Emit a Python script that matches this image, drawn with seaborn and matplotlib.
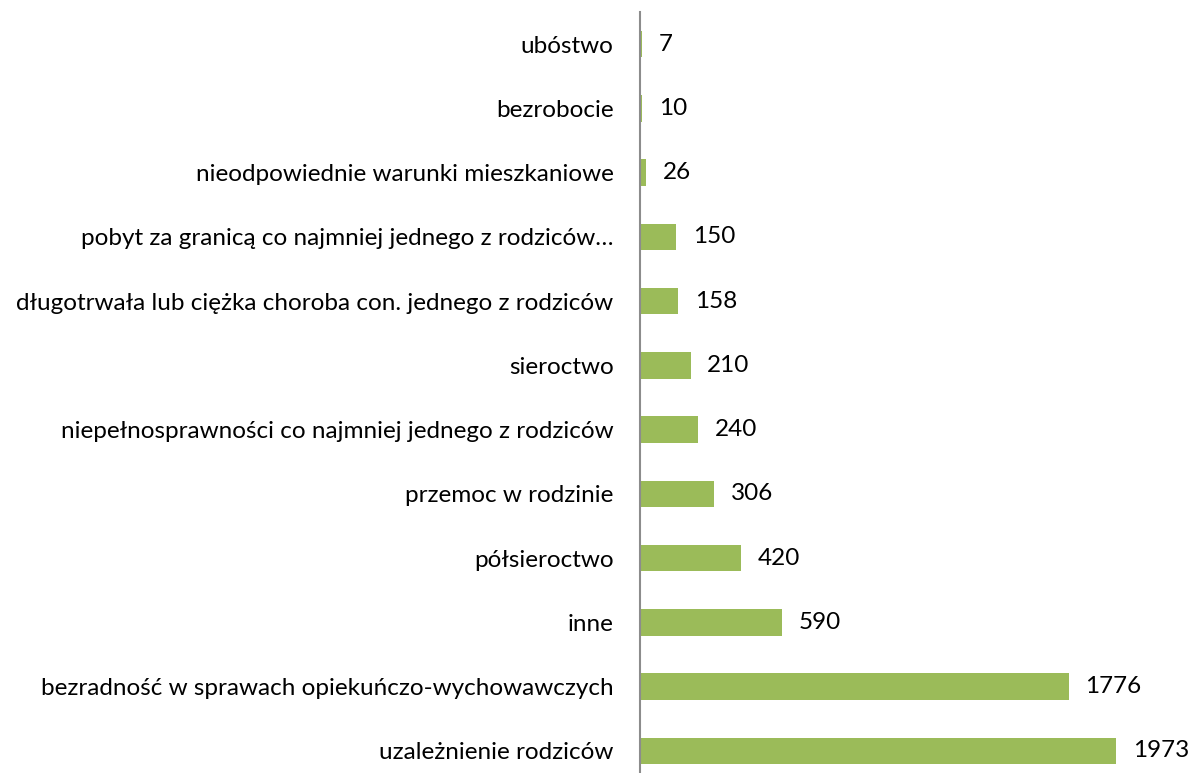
import matplotlib
matplotlib.use('Agg')
import matplotlib.pyplot as plt
import seaborn as sns
import pandas as pd

categories = [
    'ubóstwo',
    'bezrobocie',
    'nieodpowiednie warunki mieszkaniowe',
    'pobyt za granicą co najmniej jednego z rodziców…',
    'długotrwała lub ciężka choroba con. jednego z rodziców',
    'sieroctwo',
    'niepełnosprawności co najmniej jednego z rodziców',
    'przemoc w rodzinie',
    'półsieroctwo',
    'inne',
    'bezradność w sprawach opiekuńczo-wychowawczych',
    'uzależnienie rodziców',
]
values = [7, 10, 26, 150, 158, 210, 240, 306, 420, 590, 1776, 1973]

df = pd.DataFrame({'przyczyna': categories, 'liczba': values})

sns.set_style('white')
plt.rcParams['font.family'] = ['Lato', 'DejaVu Sans']

fig = plt.figure(figsize=(11.88, 7.73), dpi=100)
ax = fig.add_axes([640 / 1188, -10 / 773, 548 / 1188, 771 / 773])

sns.barplot(data=df, x='liczba', y='przyczyna', color='#9BBB59',
            saturation=1, width=0.41, linewidth=0, ax=ax)

ax.set_xlim(0, 548 / 0.2413)
ax.set_ylim(11.5, -0.5)

for i, v in enumerate(values):
    ax.annotate(str(v), (v, i), xytext=(12, 0), textcoords='offset points',
                va='center', ha='left', fontsize=17.5, color='black')

ax.set_xlabel('')
ax.set_ylabel('')
ax.set_xticks([])
ax.tick_params(axis='y', length=0, pad=19, labelsize=17.5, labelcolor='black')
for s in ['top', 'right', 'bottom']:
    ax.spines[s].set_visible(False)
ax.spines['left'].set_color('#8c8c8c')
ax.spines['left'].set_linewidth(1.5)

fig.savefig('out.png', dpi=100)
